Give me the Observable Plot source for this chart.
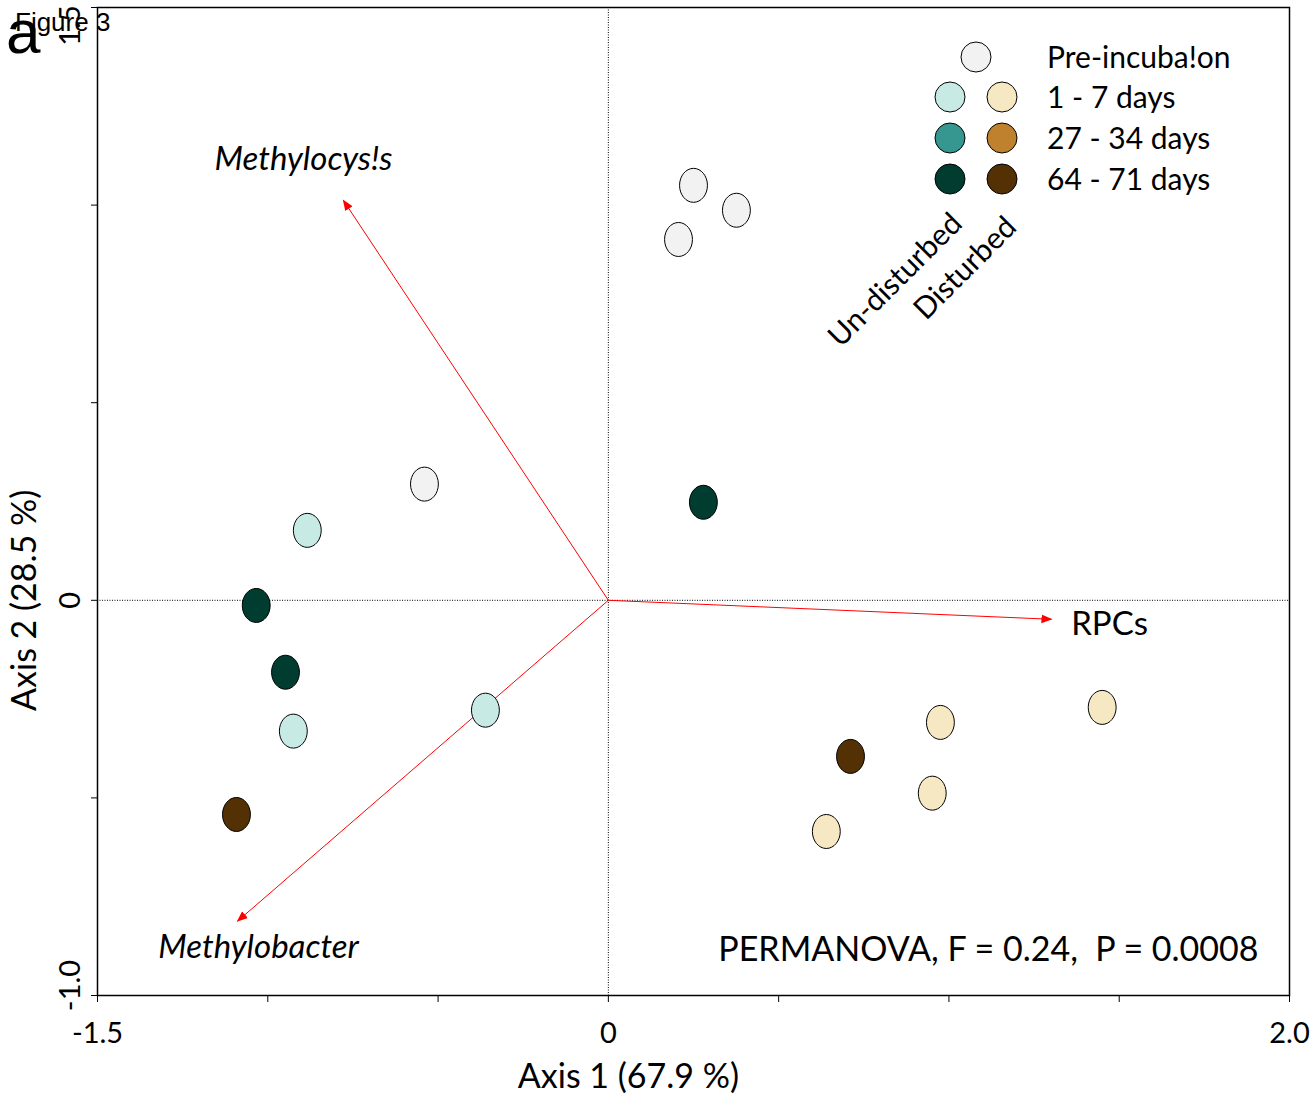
<!DOCTYPE html>
<html><head><meta charset="utf-8">
<script src="https://cdn.jsdelivr.net/npm/d3@7"></script>
<script src="https://cdn.jsdelivr.net/npm/@observablehq/plot@0.6"></script>
<style>
body{margin:0;background:#fff;}
#wrap{position:relative;width:1312px;height:1098px;overflow:hidden;}
#fig{position:absolute;left:15px;top:7px;font:26px "Liberation Sans",Arial,sans-serif;color:#000;z-index:2;}
#pan{position:absolute;left:6px;top:-4px;font:62px "Liberation Sans",Arial,sans-serif;color:#000;z-index:2;}
#legend{position:absolute;left:920px;top:30px;z-index:3;}
</style></head><body><div id="wrap"><div id="pan">a</div><div id="fig">Figure 3</div></div>
<script>
// ---- data ----
const groups = ["Pre-incubation", "Un-disturbed 1-7", "Un-disturbed 27-34", "Un-disturbed 64-71",
                "Disturbed 1-7", "Disturbed 27-34", "Disturbed 64-71"];
const groupColors = ["#f2f2f2", "#c7eae5", "#35978f", "#003c30", "#f6e8c3", "#bf812d", "#543005"];

const sampleGroup = ["Pre-incubation","Pre-incubation","Pre-incubation","Pre-incubation",
  "Un-disturbed 1-7","Un-disturbed 1-7","Un-disturbed 1-7",
  "Un-disturbed 64-71","Un-disturbed 64-71","Un-disturbed 64-71",
  "Disturbed 1-7","Disturbed 1-7","Disturbed 1-7","Disturbed 1-7",
  "Disturbed 64-71","Disturbed 64-71"];
const sampleX = [0.250, 0.376, 0.206, -0.540,
  -0.884, -0.925, -0.361,
  0.279, -1.034, -0.948,
  0.975, 1.450, 0.951, 0.640,
  0.711, -1.092];
const sampleY = [1.050, 0.987, 0.913, 0.294,
  0.177, -0.331, -0.278,
  0.248, -0.013, -0.182,
  -0.309, -0.271, -0.488, -0.585,
  -0.395, -0.542];

const arrowNames = ["Methylocystis", "Methylobacter", "RPCs"];
const arrowX = [-0.778, -1.089, 1.301];
const arrowY = [1.012, -0.812, -0.048];

const italicLabels = ["Methylocys!s", "Methylobacter"];
const italicLabelX = [-0.895, -1.027];
const italicLabelY = [1.116, -0.878];
const plainLabels = ["RPCs"];
const plainLabelX = [1.359];
const plainLabelY = [-0.061];

const xTicks = [-1.5, -1.0, -0.5, 0, 0.5, 1.0, 1.5, 2.0];
const xTickLabels = {"-1.5": "-1.5", "0": "0", "2": "2.0"};
const yTicks = [-1.0, -0.5, 0, 0.5, 1.0, 1.5];
const yLabelValues = [1.5, 0, -1.0];
const yLabelTexts = ["1.5", "0", "-1.0"];

const xTitle = "Axis 1 (67.9 %)";
const yTitle = "Axis 2 (28.5 %)";
const statText = "PERMANOVA, F = 0.24,  P = 0.0008";
const colHeads = ["Un-disturbed", "Disturbed"];
const colHeadX = [0.843, 1.048];
const colHeadY = [0.810, 0.840];

const legendLabels = ["Pre-incuba!on", "1 - 7 days", "27 - 34 days", "64 - 71 days"];
const legendLeft = ["#f2f2f2", "#c7eae5", "#35978f", "#003c30"];
const legendRight = [null, "#f6e8c3", "#bf812d", "#543005"];

// ---- build ----
const samples = sampleX.map((x, i) => ({x, y: sampleY[i], group: sampleGroup[i]}));
const arrows = arrowNames.map((n, i) => ({name: n, x: arrowX[i], y: arrowY[i]}));
const ilabels = italicLabels.map((t, i) => ({t, x: italicLabelX[i], y: italicLabelY[i]}));
const plabels = plainLabels.map((t, i) => ({t, x: plainLabelX[i], y: plainLabelY[i]}));
const heads = colHeads.map((t, i) => ({t, x: colHeadX[i], y: colHeadY[i]}));

const ellipse = {
  draw(ctx, size) {
    const r = Math.sqrt(size / Math.PI), rx = r * 0.82, ry = r, k = 0.5523;
    ctx.moveTo(rx, 0);
    ctx.bezierCurveTo(rx, ry * k, rx * k, ry, 0, ry);
    ctx.bezierCurveTo(-rx * k, ry, -rx, ry * k, -rx, 0);
    ctx.bezierCurveTo(-rx, -ry * k, -rx * k, -ry, 0, -ry);
    ctx.bezierCurveTo(rx * k, -ry, rx, -ry * k, rx, 0);
    ctx.closePath();
  }
};

const FONT = "Lato, 'Open Sans', sans-serif";
const yLabelDy = [18, 0, -10];

const chart = Plot.plot({
  width: 1312, height: 1098,
  marginLeft: 97, marginRight: 23, marginTop: 7, marginBottom: 103,
  x: {domain: [-1.5, 2.0]},
  y: {domain: [-1.0, 1.5]},
  color: {domain: groups, range: groupColors},
  style: {fontFamily: FONT, background: "white", overflow: "visible", color: "black"},
  marks: [
    Plot.ruleX([0], {stroke: "black", strokeWidth: 1, strokeDasharray: "1,1.5"}),
    Plot.ruleY([0], {stroke: "black", strokeWidth: 1, strokeDasharray: "1,1.5"}),
    Plot.axisX({ticks: xTicks, tickFormat: d => xTickLabels[String(d)] ?? "", tickSize: 7,
      tickPadding: 20, fontSize: 29, label: null, strokeWidth: 1}),
    Plot.axisY({ticks: yTicks, tickFormat: () => "", tickSize: 6, label: null, strokeWidth: 1}),
    ...yLabelValues.map((v, i) => Plot.text([yLabelTexts[i]], {y: [v], frameAnchor: "left", dx: -27,
      dy: yLabelDy[i], rotate: -90, textAnchor: "middle", text: d => d, fontSize: 29})),
    Plot.frame({stroke: "black", strokeWidth: 1.5}),
    Plot.link(arrows, {x1: 0, y1: 0, x2: "x", y2: "y", stroke: "red", strokeWidth: 1, markerEnd: "arrow"}),
    Plot.dot(samples, {x: "x", y: "y", fill: "group", stroke: "black", strokeWidth: 1, r: 17, symbol: ellipse}),
    Plot.text(ilabels, {x: "x", y: "y", text: "t", fontSize: 33, fontStyle: "italic", textAnchor: "middle"}),
    Plot.text(plabels, {x: "x", y: "y", text: "t", fontSize: 33, textAnchor: "start"}),
    Plot.text(heads, {x: "x", y: "y", text: "t", fontSize: 30, rotate: -45}),
    Plot.text([statText], {x: 1.909, y: -0.886, text: d => d, textAnchor: "end", fontSize: 34}),
    Plot.text([xTitle], {x: 0.059, frameAnchor: "bottom", dy: 92, text: d => d, fontSize: 34}),
    Plot.text([yTitle], {y: [0], frameAnchor: "left", dx: -72, rotate: -90, textAnchor: "middle", text: d => d, fontSize: 34})
  ]
});

// filled arrowheads
d3.select(chart).selectAll("marker").each(function() {
  const m = d3.select(this);
  m.attr("markerWidth", 20).attr("markerHeight", 20).attr("fill", "red").attr("stroke", "none");
  m.select("path").attr("d", "M-5,-2.2L0.5,0L-5,2.2Z");
});

document.getElementById("wrap").prepend(chart);

// legend
const lg = d3.select("#wrap").append("svg").attr("id", "legend")
  .attr("width", 380).attr("height", 180).style("font-family", FONT);
const rowYs = [27, 67, 108, 149];
legendLabels.forEach((lab, i) => {
  const rowY = rowYs[i];
  if (legendRight[i] == null) {
    lg.append("circle").attr("cx", 56).attr("cy", rowY).attr("r", 15).attr("fill", legendLeft[i]).attr("stroke", "black");
  } else {
    lg.append("circle").attr("cx", 30).attr("cy", rowY).attr("r", 15).attr("fill", legendLeft[i]).attr("stroke", "black");
    lg.append("circle").attr("cx", 82).attr("cy", rowY).attr("r", 15).attr("fill", legendRight[i]).attr("stroke", "black");
  }
  lg.append("text").attr("x", 127).attr("y", rowY).attr("dy", "0.35em").attr("font-size", 30).text(lab);
});
</script>
</body></html>
